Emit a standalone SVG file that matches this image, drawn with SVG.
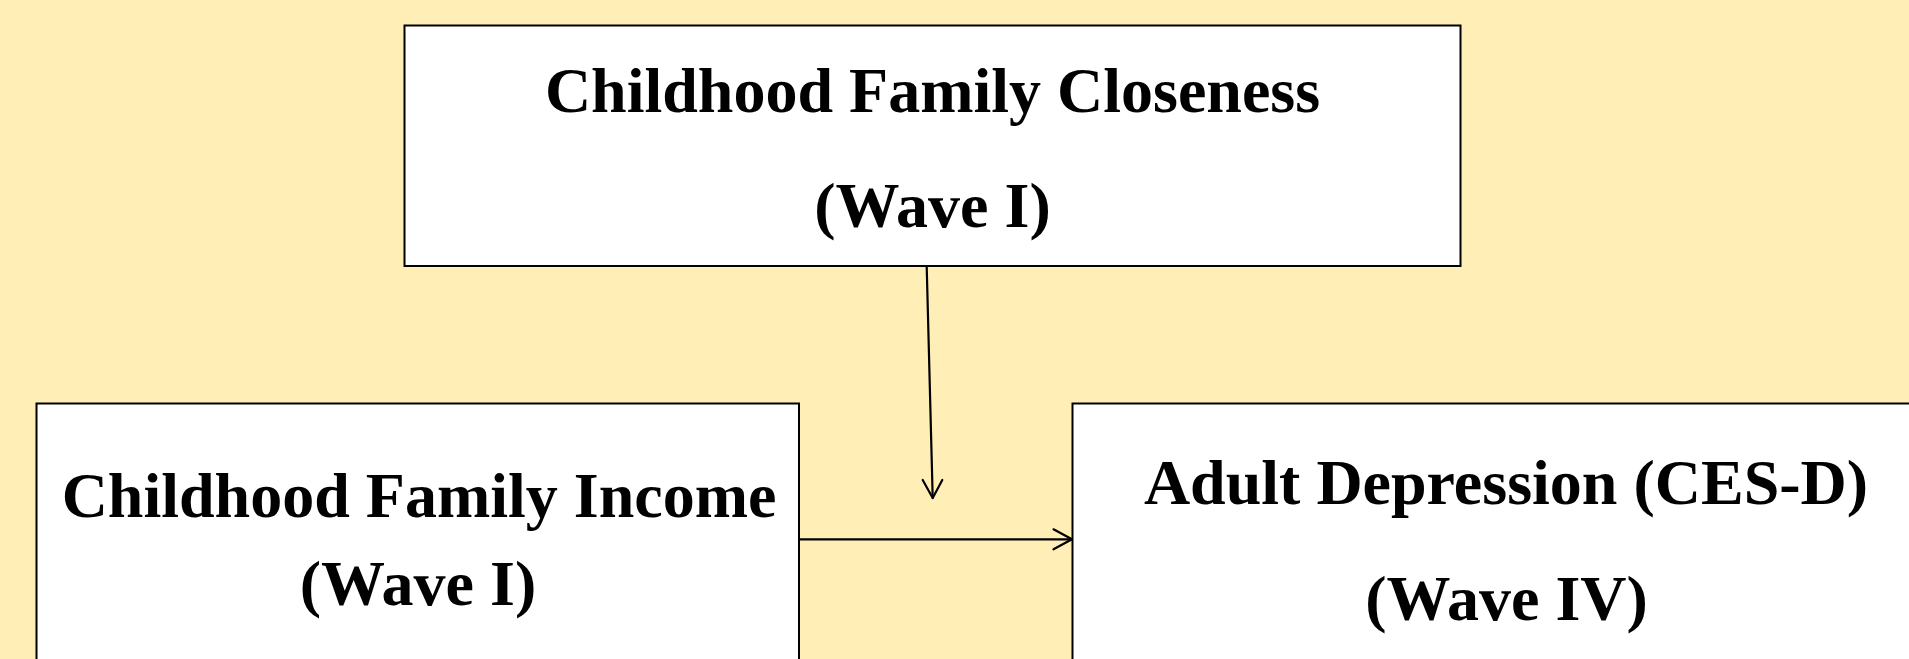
<svg xmlns="http://www.w3.org/2000/svg" width="1909" height="659" viewBox="0 0 1909 659">
<style>
.box{fill:#ffffff;stroke:#000000;stroke-width:2}
.lbl{font-family:"Liberation Serif","Times New Roman",serif;font-weight:bold;font-size:64px;fill:#000000;text-anchor:middle}
.conn{fill:none;stroke:#000000;stroke-width:2.2;stroke-linecap:round;stroke-linejoin:round}
</style>
<rect x="0" y="0" width="1909" height="659" fill="#FFEFB6"/>
<g id="closeness">
<rect class="box" x="404.5" y="25.5" width="1056" height="240.5"/>
<text class="lbl" x="932.5" y="112">Childhood Family Closeness</text>
<text class="lbl" x="932.5" y="227">(Wave I)</text>
</g>
<g id="income">
<rect class="box" x="36.5" y="403.5" width="762.5" height="300"/>
<text class="lbl" x="419" y="517">Childhood Family Income</text>
<text class="lbl" x="418" y="604.5">(Wave I)</text>
</g>
<g id="depression">
<rect class="box" x="1072.5" y="403.5" width="868" height="300"/>
<text class="lbl" x="1506" y="504">Adult Depression (CES-D)</text>
<text class="lbl" x="1506.5" y="619.5">(Wave IV)</text>
</g>
<g id="connectors">
<path class="conn" d="M926.7 266.5 L932.7 498"/>
<path class="conn" d="M922.7 480 L932.7 498 L942.3 480"/>
<path class="conn" d="M799.5 539.3 L1072 539.3"/>
<path class="conn" d="M1053.5 529.3 L1072 539.3 L1053.5 549.3"/>
</g>
</svg>
